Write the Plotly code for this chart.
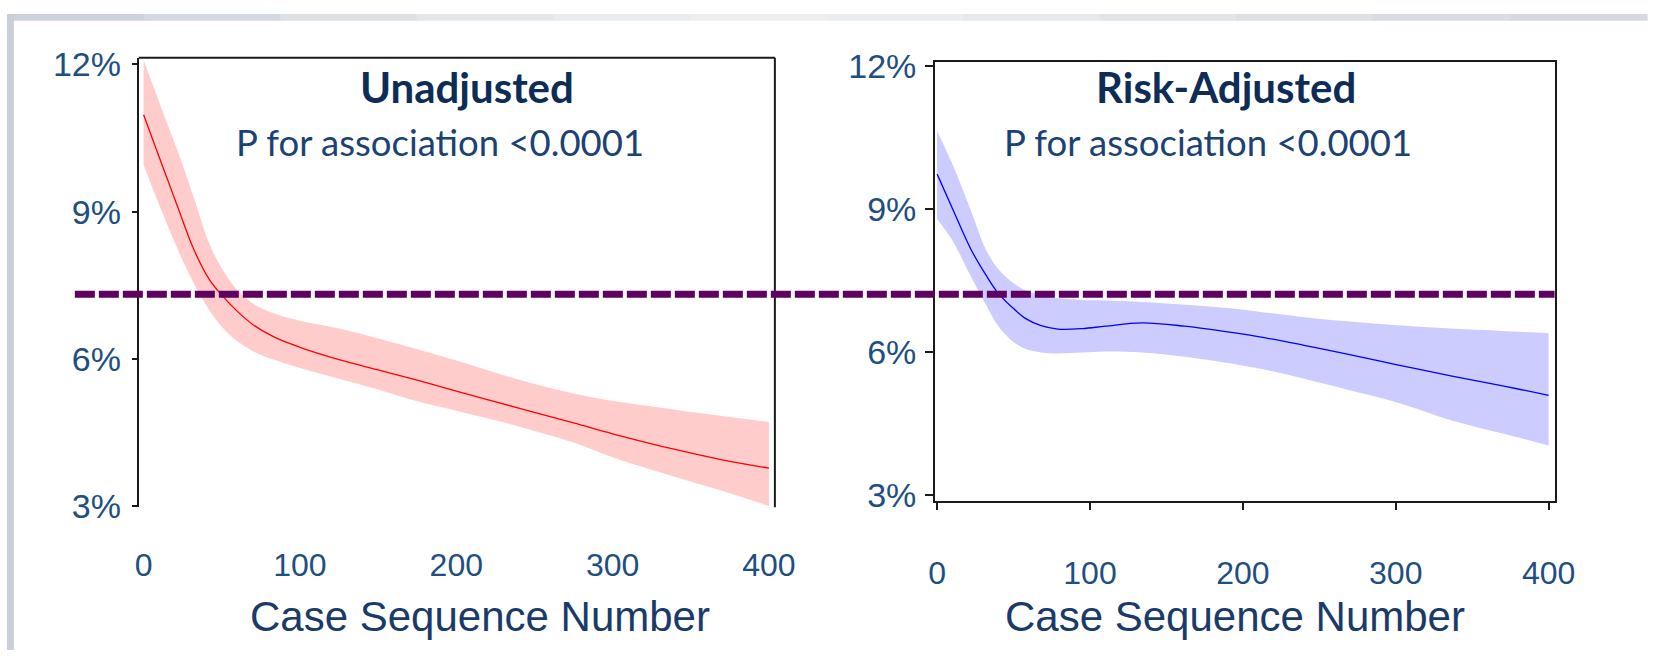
import plotly.graph_objects as go

# ---- data -------------------------------------------------------------
# Unadjusted mortality by case sequence number (percent) with confidence band
unadj_x = [0, 8, 15, 22, 32, 42, 50, 60, 70, 84, 100, 125, 150, 175, 200, 240, 275, 300, 340, 370, 400]
unadj_y = [10.97, 10.28, 9.68, 9.08, 8.24, 7.62, 7.30, 6.97, 6.70, 6.44, 6.24, 5.99, 5.78, 5.57, 5.35, 5.00, 4.70, 4.48, 4.16, 3.95, 3.78]
unadj_hi = [12.08, 11.40, 10.80, 10.22, 9.30, 8.35, 7.85, 7.40, 7.13, 6.92, 6.78, 6.62, 6.42, 6.20, 5.97, 5.58, 5.30, 5.15, 4.97, 4.84, 4.72]
unadj_lo = [9.95, 9.30, 8.75, 8.22, 7.55, 7.00, 6.66, 6.36, 6.16, 5.98, 5.82, 5.60, 5.38, 5.14, 4.95, 4.63, 4.30, 4.00, 3.60, 3.32, 3.01]

# Risk-adjusted mortality by case sequence number (percent) with confidence band
adj_x = [0, 10, 22, 32, 40, 50, 58, 68, 79, 95, 110, 134, 162, 190, 214, 240, 266, 301, 336, 370, 400]
adj_y = [9.74, 9.02, 8.17, 7.62, 7.24, 6.92, 6.71, 6.56, 6.49, 6.50, 6.55, 6.62, 6.55, 6.43, 6.31, 6.15, 5.98, 5.74, 5.51, 5.30, 5.10]
adj_hi = [10.64, 9.95, 8.98, 8.15, 7.75, 7.45, 7.30, 7.20, 7.14, 7.10, 7.09, 7.06, 7.00, 6.93, 6.84, 6.74, 6.66, 6.57, 6.50, 6.45, 6.40]
adj_lo = [8.80, 8.35, 7.60, 7.00, 6.55, 6.22, 6.07, 6.00, 5.98, 6.00, 6.02, 6.00, 5.91, 5.78, 5.64, 5.45, 5.24, 4.95, 4.58, 4.30, 4.05]

# overall reference rate (percent)
overall_rate = 7.32

y_ticks = [3, 6, 9, 12]
y_tick_text = ["3%", "6%", "9%", "12%"]
x_ticks = [0, 100, 200, 300, 400]
x_tick_text = ["0", "100", "200", "300", "400"]

panel_titles = ["Unadjusted", "Risk-Adjusted"]
p_text = "P for association <0.0001"
x_title = "Case Sequence Number"

# ---- figure -----------------------------------------------------------
W, H = 1667, 668
fig = go.Figure()
SMOOTH = 1.0

def band(x, lo, hi, fill, xa, ya):
    fig.add_trace(go.Scatter(x=x, y=lo, mode="lines", line=dict(width=0, shape="spline", smoothing=SMOOTH),
                             hoverinfo="skip", showlegend=False, xaxis=xa, yaxis=ya))
    fig.add_trace(go.Scatter(x=x, y=hi, mode="lines", line=dict(width=0, shape="spline", smoothing=SMOOTH),
                             fill="tonexty", fillcolor=fill, hoverinfo="skip", showlegend=False,
                             xaxis=xa, yaxis=ya))

band(unadj_x, unadj_lo, unadj_hi, "#ffcccc", "x", "y")
fig.add_trace(go.Scatter(x=unadj_x, y=unadj_y, mode="lines",
                         line=dict(color="#ff0000", width=1.3, shape="spline", smoothing=SMOOTH),
                         showlegend=False, xaxis="x", yaxis="y"))

band(adj_x, adj_lo, adj_hi, "#ccccff", "x2", "y2")
fig.add_trace(go.Scatter(x=adj_x, y=adj_y, mode="lines",
                         line=dict(color="#0000ff", width=1.3, shape="spline", smoothing=SMOOTH),
                         showlegend=False, xaxis="x2", yaxis="y2"))

def px_x(p):
    return p / W

def px_y(p):
    return 1 - p / H

ytick_font = dict(family="Liberation Sans, Arial, sans-serif", size=34, color="#1f4f82")
xtick_font = dict(family="Liberation Sans, Arial, sans-serif", size=32, color="#1f4f82")
axis_col = "#1a1a1a"

# left panel: open bottom, no x tick marks
fig.update_layout(
    xaxis=dict(domain=[px_x(134), px_x(781)], range=[-3.1, 403.8], anchor="y",
               showline=False, showgrid=False, zeroline=False, ticks="",
               tickvals=x_ticks, ticktext=x_tick_text, tickfont=xtick_font,
               ticklabelstandoff=36),
    yaxis=dict(domain=[1 - 518 / H, 1 - 46 / H], range=[2.986, 12.13], anchor="x",
               showline=True, linecolor=axis_col, linewidth=2, showgrid=False, zeroline=False,
               ticks="outside", ticklen=5, tickwidth=2, tickcolor=axis_col,
               tickvals=y_ticks, ticktext=y_tick_text, tickfont=ytick_font,
               ticklabelstandoff=4),
    xaxis2=dict(domain=[px_x(944), px_x(1574)], range=[-1.3, 403.9], anchor="y2",
                showline=True, mirror=True, linecolor=axis_col, linewidth=2,
                showgrid=False, zeroline=False,
                ticks="outside", ticklen=7, tickwidth=2, tickcolor=axis_col,
                tickvals=x_ticks, ticktext=x_tick_text, tickfont=xtick_font,
                ticklabelstandoff=35),
    yaxis2=dict(domain=[1 - 512 / H, 1 - 50 / H], range=[2.874, 12.1], anchor="x2",
                showline=True, mirror=True, linecolor=axis_col, linewidth=2,
                showgrid=False, zeroline=False,
                ticks="outside", ticklen=8, tickwidth=2, tickcolor=axis_col,
                tickvals=y_ticks, ticktext=y_tick_text, tickfont=ytick_font,
                ticklabelstandoff=2),
)

shapes = []
# slide-style grey edges: top strip fades from blue-grey to pale grey
strip_cols = ["#cbd2db", "#d3d9e0", "#dbe0e5", "#e3e7ea", "#e9ecee", "#eceef0",
              "#eaedef", "#e6e9ec", "#e1e5e9", "#dce1e6", "#d8dde3", "#d5dae1"]
n = len(strip_cols)
for i, c in enumerate(strip_cols):
    shapes.append(dict(type="rect", xref="paper", yref="paper", layer="below",
                       x0=i / n, x1=(i + 1) / n + 0.001, y0=px_y(7), y1=1,
                       fillcolor=c, line=dict(width=0)))
shapes.append(dict(type="rect", xref="paper", yref="paper", layer="below",
                   x0=0, x1=px_x(7), y0=0, y1=1,
                   fillcolor="#c8cfd8", line=dict(width=0)))

# left panel top and right frame lines
shapes.append(dict(type="line", xref="x domain", yref="y domain", x0=0, x1=1, y0=1, y1=1,
                   line=dict(color=axis_col, width=2)))
shapes.append(dict(type="line", xref="x domain", yref="y domain", x0=1, x1=1, y0=0, y1=1,
                   line=dict(color=axis_col, width=2)))

# overall rate reference line spanning both panels
shapes.append(dict(type="line", xref="paper", yref="y", x0=px_x(69), x1=px_x(1574),
                   y0=overall_rate, y1=overall_rate,
                   line=dict(color="#600060", width=7, dash="20px,4px")))

title_font = dict(family="Lato, Carlito, Calibri, sans-serif", size=42, color="#0d2d57")
sub_font = dict(family="Lato, Carlito, Calibri, sans-serif", size=36.5, color="#1c4173")
label_font = dict(family="Liberation Sans, Arial, sans-serif", size=42, color="#1a3b6a")

annotations = [
    dict(text="<b>%s</b>" % panel_titles[0], x=px_x(468), y=px_y(77), xref="paper", yref="paper",
         showarrow=False, font=title_font, xanchor="center", yanchor="middle"),
    dict(text=p_text, x=px_x(440), y=px_y(134), xref="paper", yref="paper",
         showarrow=False, font=sub_font, xanchor="center", yanchor="middle"),
    dict(text="<b>%s</b>" % panel_titles[1], x=px_x(1240), y=px_y(77), xref="paper", yref="paper",
         showarrow=False, font=title_font, xanchor="center", yanchor="middle"),
    dict(text=p_text, x=px_x(1222), y=px_y(134), xref="paper", yref="paper",
         showarrow=False, font=sub_font, xanchor="center", yanchor="middle"),
    dict(text=x_title, x=px_x(481), y=px_y(633), xref="paper", yref="paper",
         showarrow=False, font=label_font, xanchor="center", yanchor="middle"),
    dict(text=x_title, x=px_x(1249), y=px_y(633), xref="paper", yref="paper",
         showarrow=False, font=label_font, xanchor="center", yanchor="middle"),
]

fig.update_layout(
    width=W, height=H,
    margin=dict(l=0, r=0, t=0, b=0),
    paper_bgcolor="white", plot_bgcolor="rgba(0,0,0,0)",
    shapes=shapes, annotations=annotations, showlegend=False,
)

fig.write_html("out.html", config={"displayModeBar": False})
